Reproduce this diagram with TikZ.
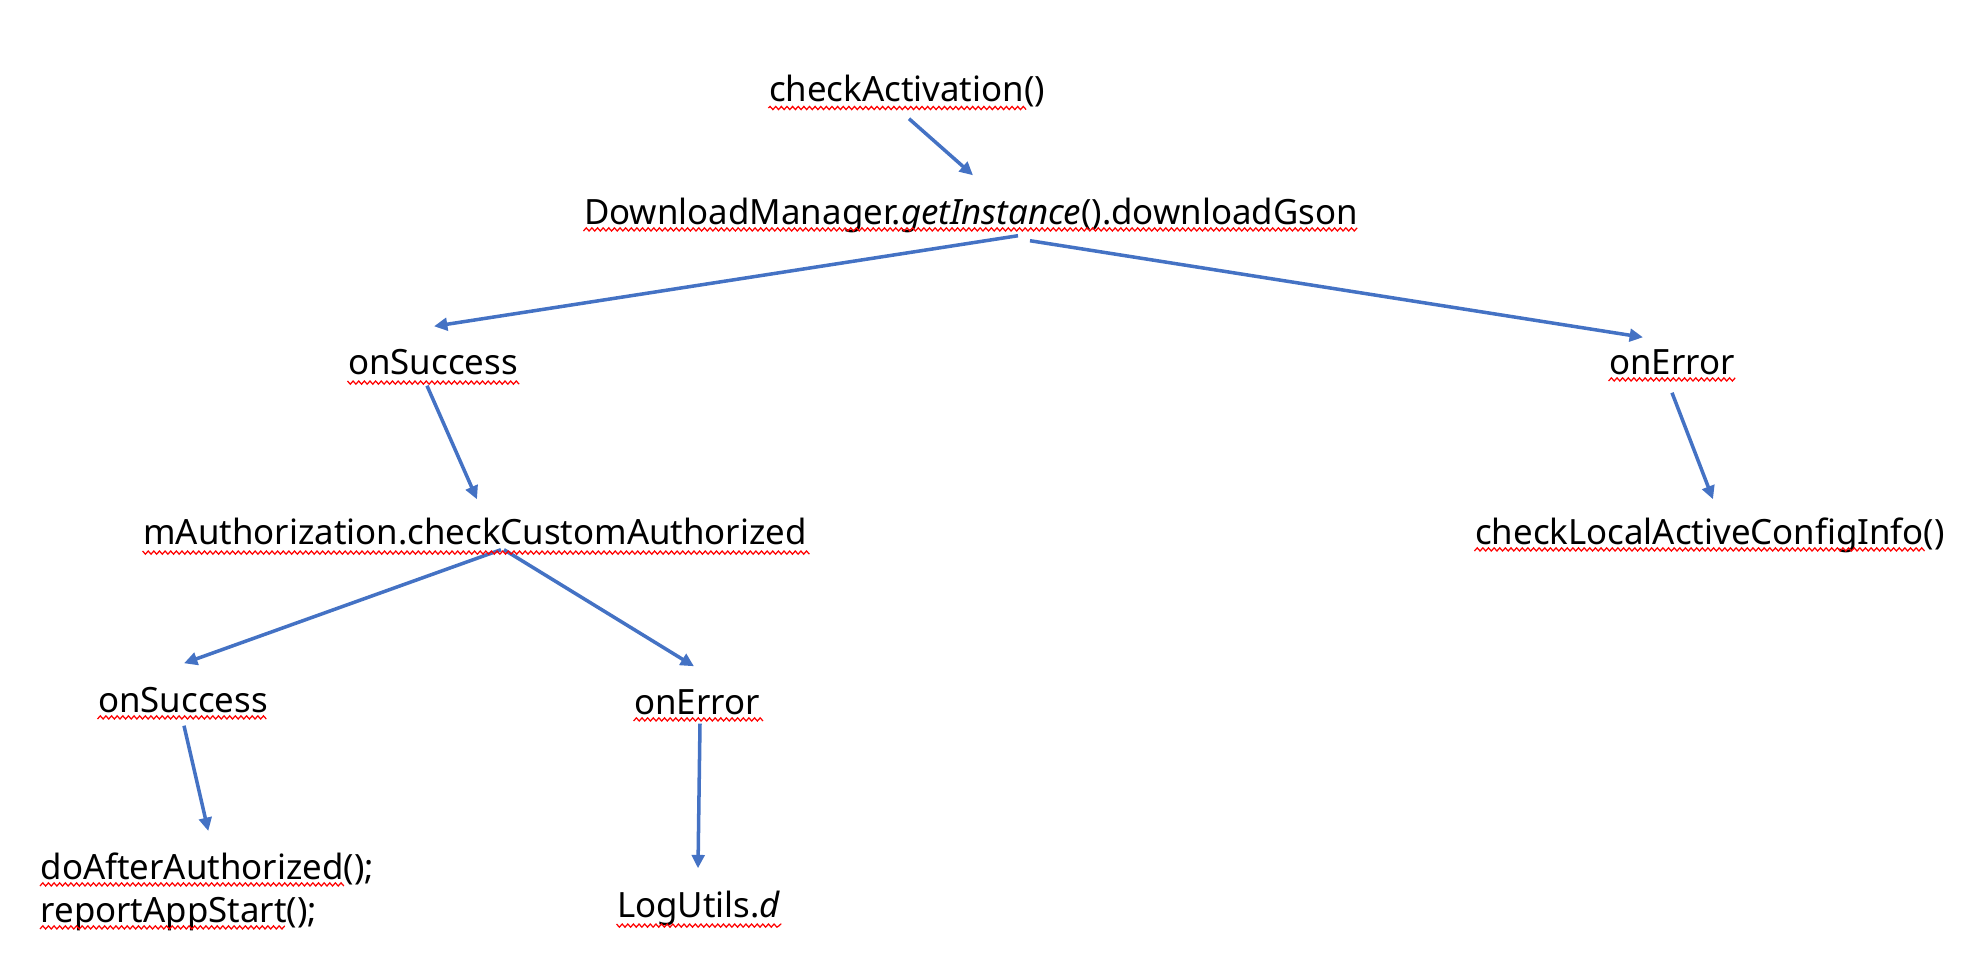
\documentclass[tikz,border=0pt]{standalone}
\usepackage{fontspec}
\setmainfont{Noto Sans}
\usetikzlibrary{calc, arrows.meta, decorations.pathmorphing}
\definecolor{callblue}{RGB}{68,114,196}
\tikzstyle{t} = [inner sep=0pt, anchor=base, text height=0.26cm, text depth=0.08cm, font=\fontsize{9.9}{12.2}\selectfont]
\tikzstyle{a} = [color=callblue, line width=1pt, -{Triangle[length=3.8pt,width=3.6pt]}]
\tikzstyle{wavy} = [draw=red, line width=0.35pt, decorate, decoration={snake, amplitude=0.45pt, segment length=1.6pt}]

\begin{document}
\begin{tikzpicture}[x=0.01cm, y=-0.01cm]

    \useasboundingbox (0,0) rectangle (1974,978);

    \node[t] (act) at (907,101) {checkActivation()};
    \node[t] (dm) at (971,224) {DownloadManager.\textit{getInstance}().downloadGson};
    \node[t] (s1) at (433,374) {onSuccess};
    \node[t] (e1) at (1672,374) {onError};
    \node[t] (auth) at (475,544) {mAuthorization.checkCustomAuthorized};
    \node[t] (local) at (1710,544) {checkLocalActiveConfigInfo()};
    \node[t] (s2) at (183,712) {onSuccess};
    \node[t] (e2) at (697,714) {onError};
    \node[inner sep=0pt, anchor=north west, align=left, font=\fontsize{9.9}{12.2}\selectfont] (after) at (40,852) {
        doAfterAuthorized(); \\ reportAppStart();
    };
    \node[t] (log) at (699,917) {LogUtils.\textit{d}};

    % arrows between the calls
    \path[a]
        ($(act.south)+(2,9)$) edge ($(dm.north)+(2,-22)$)
        ($(dm.south)+(47,3)$) edge ($(s1.north)+(1,-21)$)
        ($(dm.south)+(59,8)$) edge ($(e1.north)+(-29,-10)$)
        ($(s1.south)+(-6,3)$) edge ($(auth.north)+(2,-18)$)
        ($(e1.south)+(0,10)$) edge ($(local.north)+(3,-18)$)
        ($(auth.south)+(26,-3)$) edge ($(s2.north)+(1,-22)$)
        ($(auth.south)+(29,-3)$) edge ($(e2.north)+(-3,-21)$)
        ($(s2.south)+(1,5)$) edge ($(after.north)+(1,-21)$)
        ($(e2.south)+(3,1)$) edge ($(log.north)+(-1,-22)$);

    % spell-check marks under the words
    \path[wavy]
        ($(act.base west)+(0,7)$) -- ($(act.base east)+(-21,7)$)
        ($(dm.base west)+(0,7)$) -- ($(dm.base east)+(0,7)$)
        ($(s1.base west)+(0,7)$) -- ($(s1.base east)+(0,7)$)
        ($(e1.base west)+(0,7)$) -- ($(e1.base east)+(0,7)$)
        ($(auth.base west)+(0,7)$) -- ($(auth.base east)+(0,7)$)
        ($(local.base west)+(0,7)$) -- ($(local.base east)+(-21,7)$)
        ($(s2.base west)+(0,7)$) -- ($(s2.base east)+(0,7)$)
        ($(e2.base west)+(0,7)$) -- ($(e2.base east)+(0,7)$)
        ($(after.north west)+(0,34)$) -- ($(after.north west)+(304,34)$)
        ($(after.north west)+(0,77)$) -- ($(after.north west)+(245,77)$)
        ($(log.base west)+(0,7)$) -- ($(log.base east)+(0,7)$);

\end{tikzpicture}
\end{document}
